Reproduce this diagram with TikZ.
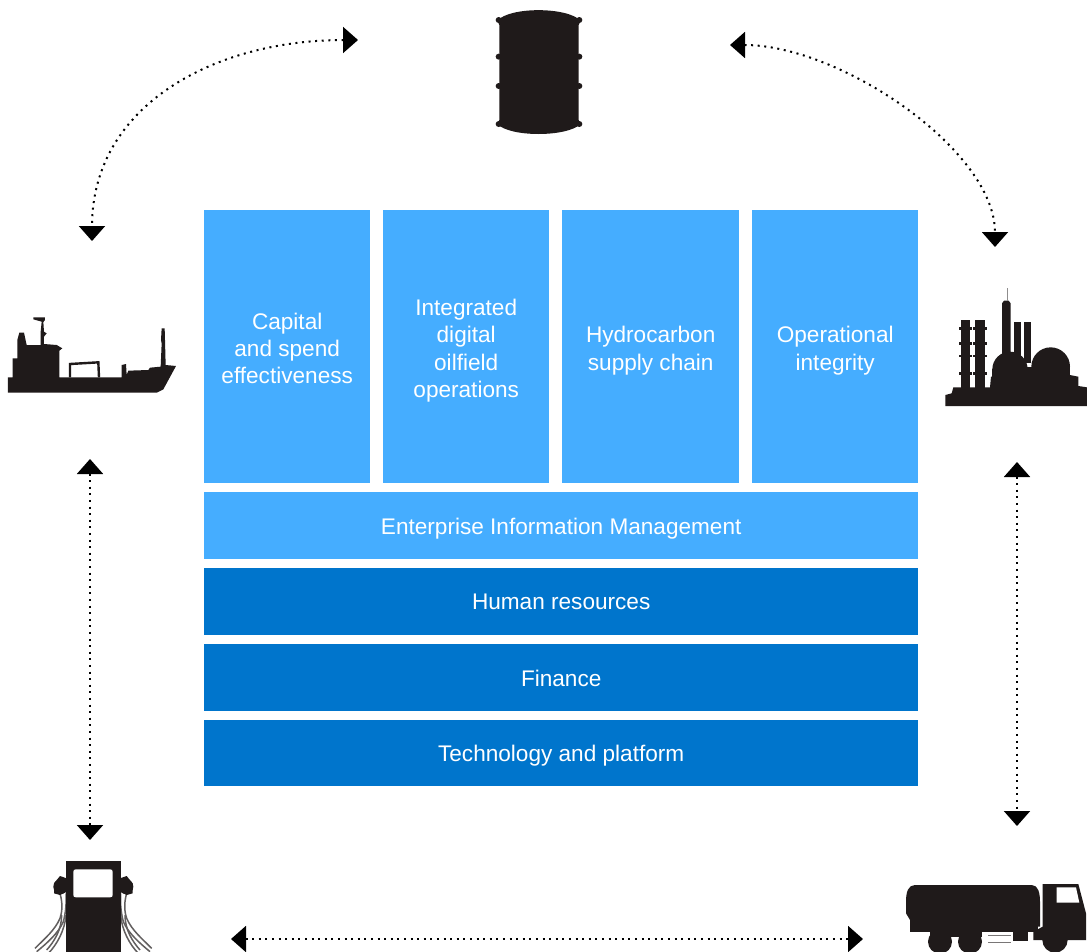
\documentclass[tikz,border=0pt]{standalone}
\usepackage{fontspec}
\setmainfont{Liberation Sans}
\usetikzlibrary{arrows.meta}
\definecolor{lightb}{HTML}{45ADFF}
\definecolor{darkb}{HTML}{0075CC}
\definecolor{ink}{HTML}{1F1A1A}
\newcommand{\lowerby}[1]{\rule{0pt}{\dimexpr 16.4pt+2\dimexpr #1\relax\relax}}
\tikzset{
 box/.style={anchor=north west,inner sep=0pt,text=white,align=center,font=\fontsize{22.6}{27.2}\selectfont},
 lightbox/.style={box,fill=lightb},
 darkbox/.style={box,fill=darkb},
 link/.style={draw=black,line width=2pt,dash pattern=on 2pt off 4.6pt,{Triangle[length=15pt,width=26pt]}-{Triangle[length=15pt,width=26pt]}},
 icon/.style={fill=ink,draw=none},
 frame/.style={draw=ink,line width=2.4pt},
 hose/.style={draw=ink!70,line width=1.5pt}
}
\begin{document}
\begin{tikzpicture}[x=1pt,y=-1pt]
\clip (0,0) rectangle (1087,951);
\fill[white] (0,0) rectangle (1087,951);
% boxes
\node[lightbox,minimum width=166pt,minimum height=273pt] (capital) at (204,210) {\lowerby{1.5pt}Capital\\and spend\\effectiveness};
\node[lightbox,minimum width=166pt,minimum height=273pt] (digital) at (383,210) {\lowerby{4pt}Integrated\\digital\\oilfield\\operations};
\node[lightbox,minimum width=177pt,minimum height=273pt] (hydro) at (562,210) {\lowerby{4pt}Hydrocarbon\\supply chain};
\node[lightbox,minimum width=166pt,minimum height=273pt] (integrity) at (752,210) {\lowerby{4pt}Operational\\integrity};
\node[lightbox,minimum width=714pt,minimum height=67pt] (eim) at (204,492) {\lowerby{3pt}Enterprise Information Management};
\node[darkbox,minimum width=714pt,minimum height=67pt] (hr) at (204,568) {Human resources};
\node[darkbox,minimum width=714pt,minimum height=67pt] (fin) at (204,644) {\lowerby{1pt}Finance};
\node[darkbox,minimum width=714pt,minimum height=66pt] (tech) at (204,720) {\lowerby{2pt}Technology and platform};
% connector ends
\coordinate (tlA) at (358,40);
\coordinate (tlB) at (92,241);
\coordinate (trA) at (730,45);
\coordinate (trB) at (995,247);
\coordinate (lA) at (90,459);
\coordinate (lB) at (90,840);
\coordinate (rA) at (1017,462);
\coordinate (rB) at (1017,826);
\coordinate (bA) at (231,939);
\coordinate (bB) at (863,939);
\draw[link] (tlA) .. controls (215,40) and (92,105) .. (tlB);
\draw[link] (trA) .. controls (840,45) and (995,150) .. (trB);
\draw[link] (lA) -- (lB);
\draw[link] (rA) -- (rB);
\draw[link] (bA) -- (bB);
% barrel
\begin{scope}[shift={(480,0)},scale=1/3]
\fill[icon] (52,62) .. controls (90,20) and (260,20) .. (302,62) -- (296,75) -- (296,360) -- (302,372) .. controls (260,412) and (90,412) .. (52,372) -- (58,360) -- (58,75) -- cycle;
\foreach \yy in {60,170,258,372}{
 \fill[icon] (56,\yy) circle (9);
 \fill[icon] (298,\yy) circle (9);
}
\end{scope}
% ship
\begin{scope}[shift={(0,300)},scale=1/3]
\fill[icon] (24,232) -- (38,232) -- (38,175) -- (52,175) -- (52,120) -- (58,98) -- (72,98) -- (80,135) -- (122,135) -- (122,95) -- (125,65) -- (100,58) -- (100,52) -- (135,52) -- (135,60) -- (130,66) -- (132,95) -- (140,100) -- (132,110) -- (132,132) -- (170,135) -- (187,145) -- (178,152) -- (178,232) -- (365,232) -- (365,195) -- (378,192) -- (380,225) -- (385,212) -- (445,210) -- (450,203) -- (482,200) -- (485,130) -- (483,120) -- (485,85) -- (494,85) -- (495,120) -- (497,195) -- (528,198) -- (490,268) -- (470,278) -- (24,278) -- cycle;
\draw[frame] (210,232) -- (210,192) -- (295,187) -- (297,232);
\end{scope}
% refinery
\begin{scope}[shift={(930,280)},scale=1/3]
\fill[icon] (46,378) -- (46,345) -- (65,340) -- (70,322) -- (180,322) -- (183,290) -- (190,290) -- (420,285) -- (445,290) -- (445,318) -- (471,322) -- (471,378) -- cycle;
\fill[icon] (92,120) rectangle (120,325);
\fill[icon] (135,120) rectangle (165,325);
\fill[icon] (216,70) -- (222,62) -- (236,62) -- (242,70) -- (242,230) -- (216,230) -- cycle;
\fill[icon] (253,125) rectangle (272,240);
\fill[icon] (281,125) rectangle (302,250);
\fill[icon] (240,268) circle (53);
\fill[icon] (187,268) rectangle (293,325);
\fill[icon] (362,260) circle (58);
\fill[icon] (304,260) rectangle (420,325);
\fill[icon] (290,262) rectangle (310,325);
\foreach \yy in {145,190,228,280}{
 \fill[icon] (87,\yy-4) rectangle (125,\yy+4);
 \fill[icon] (130,\yy-4) rectangle (170,\yy+4);
}
\draw[ink!50,line width=1pt] (232,25) -- (232,62);
\end{scope}
% pump
\begin{scope}[shift={(20,850)},scale=1/3]
\foreach \s in {1,-1}{
 \begin{scope}[shift={(220,0)},xscale=\s]
 \draw[hose] (82,130) .. controls (80,170) and (85,195) .. (90,215) .. controls (105,250) and (140,280) .. (170,305);
 \draw[hose] (100,130) .. controls (90,165) and (95,190) .. (100,205) .. controls (115,240) and (145,265) .. (175,295);
 \draw[hose] (82,195) .. controls (85,240) and (110,285) .. (135,310);
 \draw[hose] (95,195) .. controls (95,240) and (118,275) .. (140,300);
 \fill[icon] (98,110) circle (22);
 \fill[icon] (80,85) -- (100,78) -- (118,100) -- (118,130) -- (100,135) -- (80,125) -- cycle;
 \end{scope}
}
\fill[icon] (138,32) rectangle (302,320);
\fill[white] (168,58) -- (270,58) .. controls (276,58) and (278,60) .. (278,66) -- (278,134) .. controls (278,140) and (276,142) .. (270,142) -- (168,142) .. controls (162,142) and (160,140) .. (160,134) -- (160,66) .. controls (160,60) and (162,58) .. (168,58) -- cycle;
\end{scope}
% truck
\begin{scope}[shift={(890,870)},scale=1/3]
\fill[icon] (48,95) .. controls (48,65) and (55,45) .. (75,45) -- (425,45) .. controls (445,45) and (450,70) .. (450,95) -- (450,170) -- (60,170) -- (60,150) -- (48,130) -- cycle;
\fill[icon] (60,150) rectangle (445,185);
\fill[icon] (458,42) -- (565,42) -- (588,130) -- (588,210) -- (430,210) -- (430,185) -- (458,170) -- cycle;
\fill[white] (500,52) -- (558,52) -- (568,98) -- (500,98) -- cycle;
\fill[icon] (370,185) rectangle (415,212);
\fill[icon] (120,185) rectangle (275,200);
\fill[icon] (150,215) circle (36);
\fill[icon] (240,215) circle (36);
\fill[icon] (495,210) circle (38);
\draw[ink!60,line width=1pt] (295,197) -- (362,197) (295,217) -- (362,217);
\end{scope}
\end{tikzpicture}
\end{document}
